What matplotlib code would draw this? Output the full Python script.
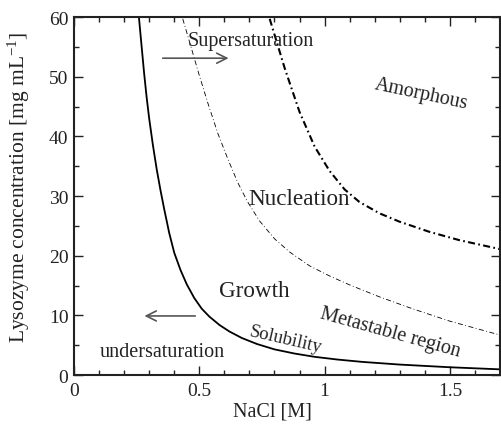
import matplotlib
matplotlib.use("Agg")
import matplotlib.pyplot as plt

plt.rcParams["font.family"] = ["Liberation Serif", "DejaVu Serif"]
plt.rcParams["mathtext.fontset"] = "custom"
plt.rcParams["mathtext.rm"] = "Liberation Serif"
plt.rcParams["mathtext.it"] = "Liberation Serif:italic"

# solubility curve (solid)
sol_x = [0.259, 0.27, 0.28, 0.29, 0.30, 0.315, 0.33, 0.345, 0.36, 0.38,
         0.40, 0.425, 0.45, 0.48, 0.51, 0.54, 0.58, 0.62, 0.67, 0.73,
         0.80, 0.88, 0.96, 1.05, 1.15, 1.30, 1.50, 1.70]
sol_y = [60.0, 55.0, 50.5, 46.5, 43.0, 38.5, 34.5, 31.0, 27.8, 23.8,
         20.5, 17.6, 15.2, 12.9, 11.1, 9.8, 8.4, 7.3, 6.2, 5.2,
         4.3, 3.6, 3.05, 2.6, 2.2, 1.75, 1.3, 0.95]

# metastable limit (thin dash-dot)
met_x = [0.434, 0.462, 0.498, 0.534, 0.574, 0.614, 0.653, 0.693, 0.741, 0.801,
         0.861, 0.940, 1.020, 1.100, 1.219, 1.351, 1.498, 1.70]
met_y = [59.7, 55.7, 50.5, 45.6, 40.5, 36.2, 32.3, 29.0, 25.8, 22.8,
         20.6, 18.3, 16.6, 15.1, 13.1, 11.1, 9.05, 6.7]

# amorphous limit (thick dash-dot)
amo_x = [0.781, 0.841, 0.900, 0.960, 1.020, 1.080, 1.139, 1.219, 1.299, 1.418,
         1.538, 1.70]
amo_y = [59.7, 51.4, 44.1, 38.3, 34.2, 31.1, 29.0, 27.1, 25.7, 24.0,
         22.6, 21.1]

fig = plt.figure(figsize=(5.01, 4.27), dpi=100)
ax = fig.add_axes([0.1477, 0.1194, 0.8503, 0.8384])

ax.plot(sol_x, sol_y, color="black", lw=1.3, solid_joinstyle="round")
ax.plot(met_x, met_y, color="black", lw=0.6, dashes=(6, 3, 1, 3))
ax.plot(amo_x, amo_y, color="black", lw=1.5, dashes=(3.4, 1.6, 0.8, 1.6))

ax.set_xlim(0, 1.7)
ax.set_ylim(0, 60)
ax.set_xticks([0, 0.5, 1, 1.5])
ax.set_xticklabels(["0", "0.5", "1", "1.5"])
ax.set_xticks([i / 10 for i in range(18)], minor=True)
ax.set_yticks([0, 10, 20, 30, 40, 50, 60])
ax.set_yticks(list(range(0, 61, 5)), minor=True)

ax.tick_params(which="both", direction="in", top=True, right=True,
               labelsize=14, width=1, colors="#222222")
ax.tick_params(which="major", length=6.5)
ax.tick_params(which="minor", length=3.6)
ax.tick_params(axis="x", pad=5)
ax.tick_params(axis="y", pad=4)
for sp in ax.spines.values():
    sp.set_linewidth(1.5)
    sp.set_color("#222222")

ax.set_xlabel("NaCl [M]", fontsize=14.5, color="#222222")
ax.set_ylabel("Lysozyme concentration [mg mL$^{-1}$]", fontsize=15.5,
              color="#222222")
ax.xaxis.set_label_coords(0.466, -0.075)
ax.yaxis.set_label_coords(-0.099, 0.528)

txt = "#222222"
ax.text(0.704, 55.3, "Supersaturation", fontsize=14.5, color=txt,
        ha="center", va="baseline")
ax.text(0.353, 3.2, "undersaturation", fontsize=14.5, color=txt,
        ha="center", va="baseline")
ax.text(0.897, 28.7, "Nucleation", fontsize=16.7, color=txt,
        ha="center", va="baseline")
ax.text(0.721, 13.2, "Growth", fontsize=16.7, color=txt,
        ha="center", va="baseline")
ax.text(1.386, 47.1, "Amorphous", fontsize=14.5, color=txt,
        ha="center", va="center", rotation=-12)
ax.text(1.262, 7.1, "Metastable region", fontsize=14.5, color=txt,
        ha="center", va="center", rotation=-15.5)
ax.text(0.843, 6.0, "Solubility", fontsize=13.5, color=txt,
        ha="center", va="center", rotation=-13)

ax.annotate("", xy=(0.628, 53.1), xytext=(0.343, 53.1),
            arrowprops=dict(arrowstyle="->", color="#555555", lw=1.2,
                            mutation_scale=18))
ax.annotate("", xy=(0.27, 9.9), xytext=(0.495, 9.9),
            arrowprops=dict(arrowstyle="->", color="#555555", lw=1.2,
                            mutation_scale=18))

fig.savefig("out.png", dpi=100)
